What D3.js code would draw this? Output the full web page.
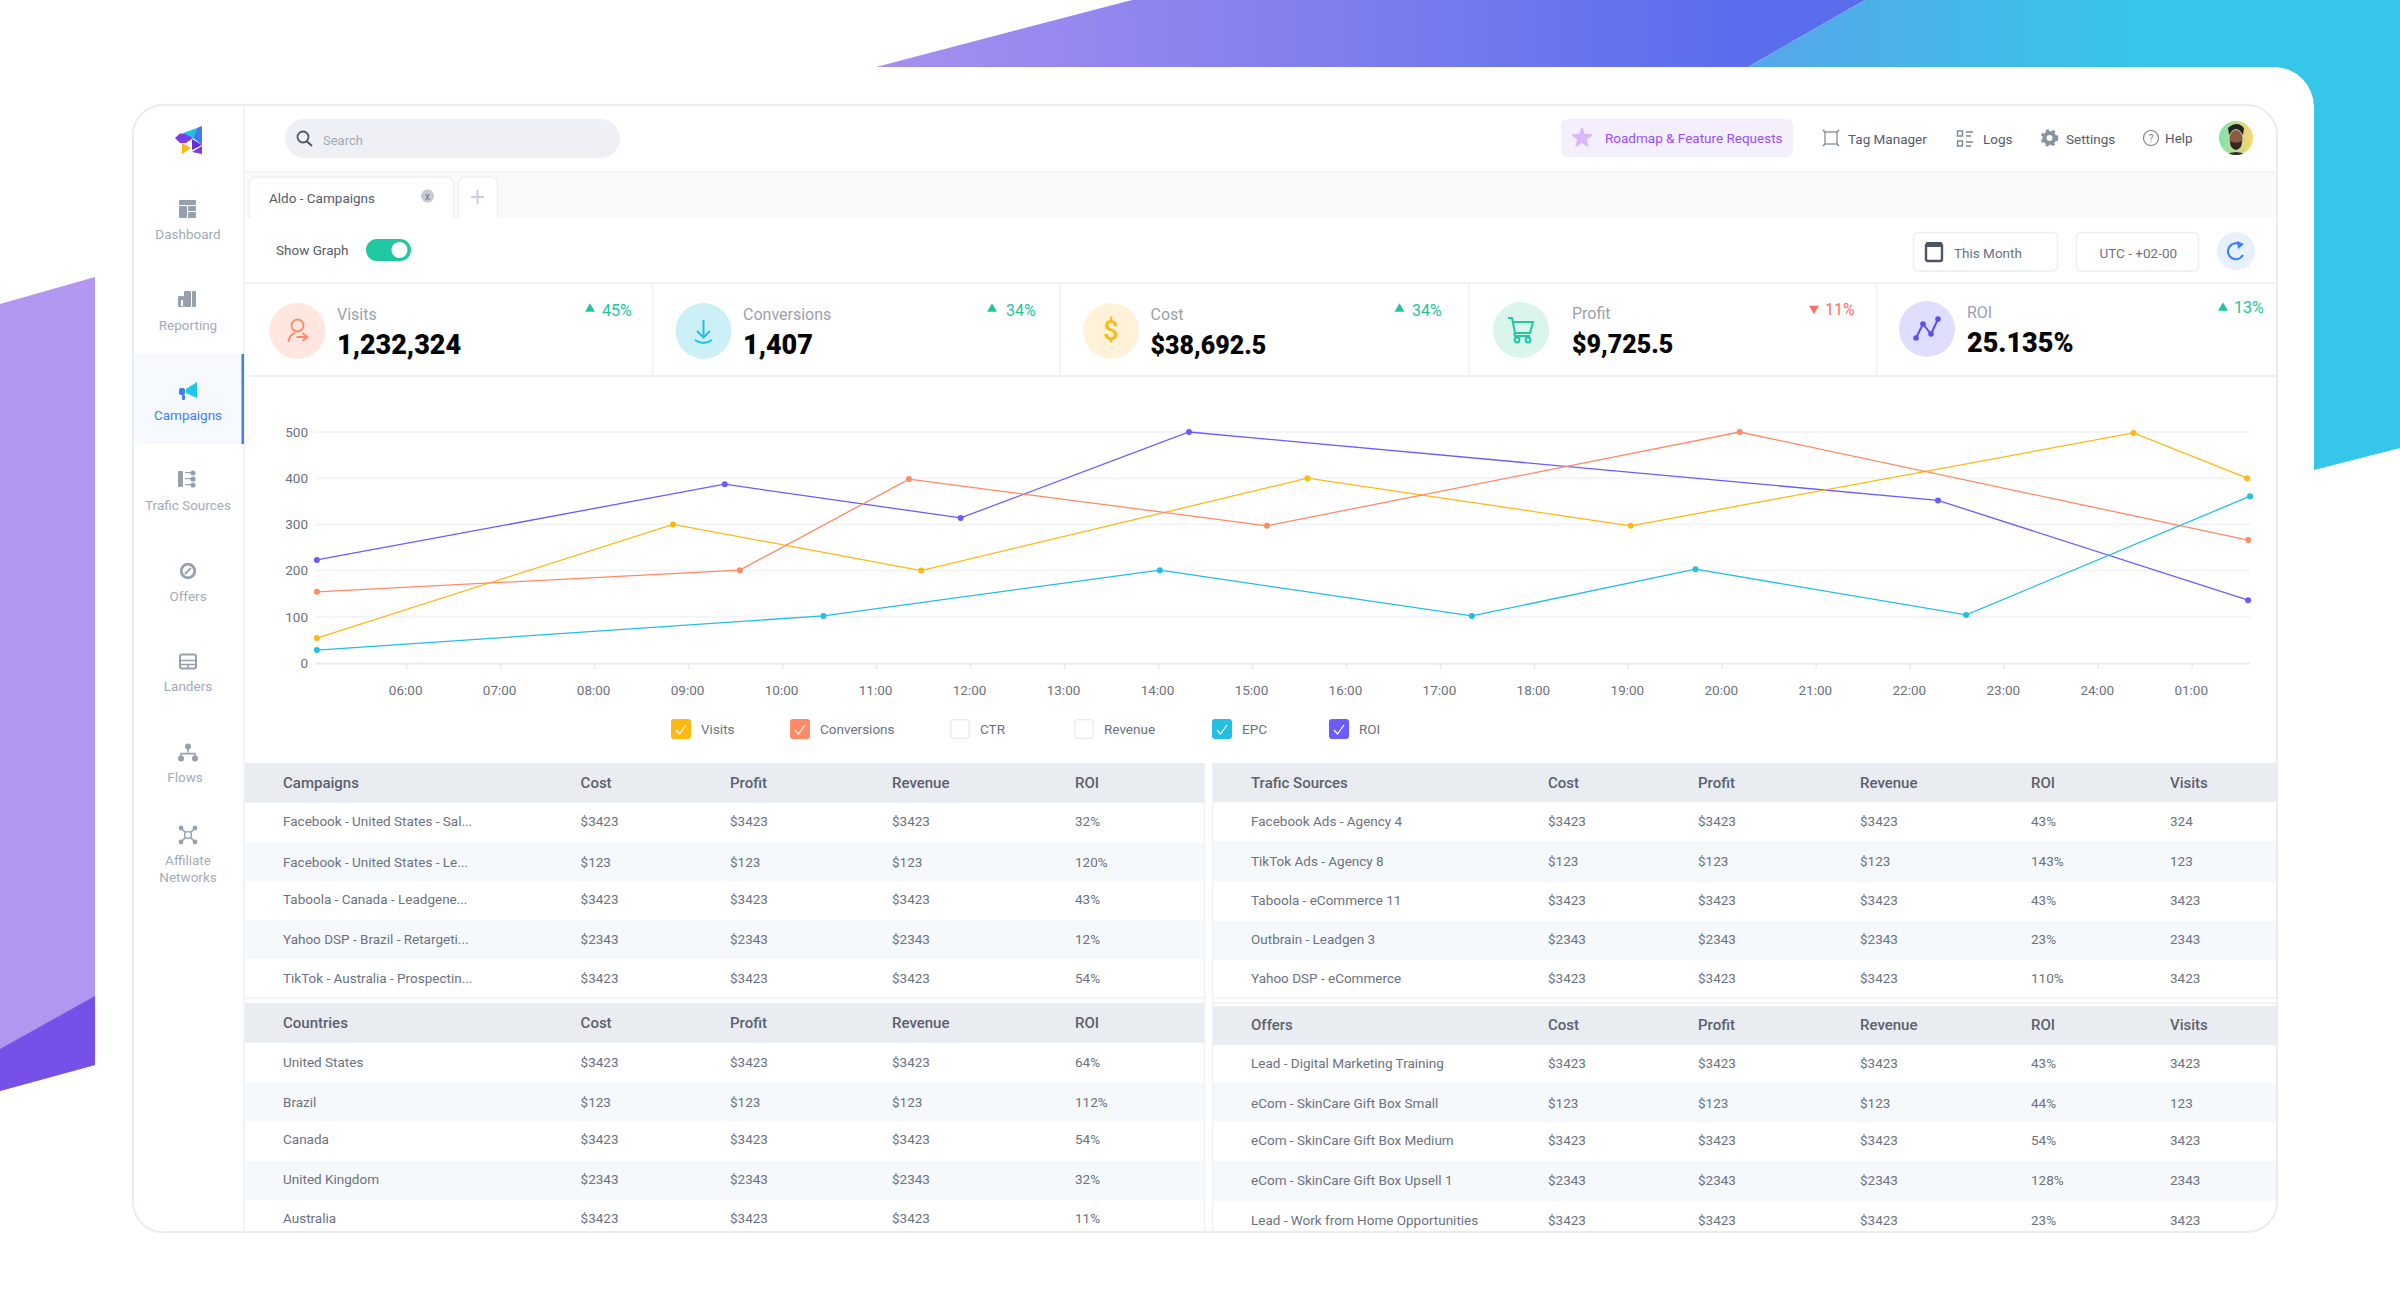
<!DOCTYPE html>
<html>
<head>
<meta charset="utf-8">
<title>Campaigns</title>
<script src="https://cdn.jsdelivr.net/npm/d3@7"></script>
<style>
  html, body { margin: 0; padding: 0; background: #fff; }
  svg { display: block; font-family: Roboto, sans-serif; }
</style>
</head>
<body>
<svg id="page" width="2400" height="1306"></svg>
<script>
// chart data. hours run past 24 because the axis wraps to 01:00
const hourTicks = [6, 7, 8, 9, 10, 11, 12, 13, 14, 15, 16, 17, 18, 19, 20, 21, 22, 23, 24, 25];
const hourLabels = ["06:00", "07:00", "08:00", "09:00", "10:00", "11:00", "12:00", "13:00", "14:00", "15:00",
  "16:00", "17:00", "18:00", "19:00", "20:00", "21:00", "22:00", "23:00", "24:00", "01:00"];
const valueTicks = [0, 100, 200, 300, 400, 500];

const visitsHours = [5.05, 8.84, 11.48, 15.59, 19.03, 24.38, 25.59];
const visitsValues = [54, 300, 200, 400, 297, 498, 400];
const conversionsHours = [5.05, 9.55, 11.35, 15.16, 20.19, 25.6];
const conversionsValues = [154, 201, 398, 297, 500, 266];
const epcHours = [5.05, 10.44, 14.02, 17.34, 19.72, 22.6, 25.62];
const epcValues = [28, 102, 201, 102, 203, 104, 361];
const roiHours = [5.05, 9.39, 11.9, 14.33, 22.3, 25.6];
const roiValues = [223, 387, 314, 500, 352, 136];

const legendNames = ["Visits", "Conversions", "CTR", "Revenue", "EPC", "ROI"];
const legendChecked = [true, true, false, false, true, true];

const kpiNames = ["Visits", "Conversions", "Cost", "Profit", "ROI"];
const kpiValues = ["1,232,324", "1,407", "$38,692.5", "$9,725.5", "25.135%"];
const kpiDeltas = ["45%", "34%", "34%", "11%", "13%"];
const kpiUp = [true, true, true, false, true];

const navNames = ["Dashboard", "Reporting", "Campaigns", "Trafic Sources", "Offers", "Landers", "Flows"];

const campaignColumns = ["Campaigns", "Cost", "Profit", "Revenue", "ROI"];
const campaignRows = [
  ["Facebook - United States - Sal...", "$3423", "$3423", "$3423", "32%"],
  ["Facebook - United States - Le...", "$123", "$123", "$123", "120%"],
  ["Taboola - Canada - Leadgene...", "$3423", "$3423", "$3423", "43%"],
  ["Yahoo DSP - Brazil - Retargeti...", "$2343", "$2343", "$2343", "12%"],
  ["TikTok - Australia - Prospectin...", "$3423", "$3423", "$3423", "54%"]
];
const countryColumns = ["Countries", "Cost", "Profit", "Revenue", "ROI"];
const countryRows = [
  ["United States", "$3423", "$3423", "$3423", "64%"],
  ["Brazil", "$123", "$123", "$123", "112%"],
  ["Canada", "$3423", "$3423", "$3423", "54%"],
  ["United Kingdom", "$2343", "$2343", "$2343", "32%"],
  ["Australia", "$3423", "$3423", "$3423", "11%"]
];
const sourceColumns = ["Trafic Sources", "Cost", "Profit", "Revenue", "ROI", "Visits"];
const sourceRows = [
  ["Facebook Ads - Agency 4", "$3423", "$3423", "$3423", "43%", "324"],
  ["TikTok Ads - Agency 8", "$123", "$123", "$123", "143%", "123"],
  ["Taboola - eCommerce 11", "$3423", "$3423", "$3423", "43%", "3423"],
  ["Outbrain - Leadgen 3", "$2343", "$2343", "$2343", "23%", "2343"],
  ["Yahoo DSP - eCommerce", "$3423", "$3423", "$3423", "110%", "3423"]
];
const offerColumns = ["Offers", "Cost", "Profit", "Revenue", "ROI", "Visits"];
const offerRows = [
  ["Lead - Digital Marketing Training", "$3423", "$3423", "$3423", "43%", "3423"],
  ["eCom - SkinCare Gift Box Small", "$123", "$123", "$123", "44%", "123"],
  ["eCom - SkinCare Gift Box Medium", "$3423", "$3423", "$3423", "54%", "3423"],
  ["eCom - SkinCare Gift Box Upsell 1", "$2343", "$2343", "$2343", "128%", "2343"],
  ["Lead - Work from Home Opportunities", "$3423", "$3423", "$3423", "23%", "3423"]
];

const svg = d3.select("#page");
const defs = svg.append("defs");

const GREY = "#97a1ae";
const colors = { visits: "#fdb913", conversions: "#ff8a65", epc: "#22bfe3", roi: "#6a5cff" };

function gradient(id, x1, x2, from, to) {
  const g = defs.append("linearGradient").attr("id", id)
    .attr("gradientUnits", "userSpaceOnUse")
    .attr("x1", x1).attr("x2", x2).attr("y1", 0).attr("y2", 0);
  g.append("stop").attr("offset", 0).attr("stop-color", from);
  g.append("stop").attr("offset", 1).attr("stop-color", to);
}
gradient("bandPurple", 876, 1748, "#a690ef", "#5a6dec");
gradient("bandBlue", 1748, 2150, "#56a6e8", "#36c6e9");

function poly(parent, points, fill) {
  return parent.append("polygon").attr("points", points.join(" ")).attr("fill", fill);
}
function box(parent, x, y, w, h, fill, rx) {
  return parent.append("rect").attr("x", x).attr("y", y).attr("width", w).attr("height", h)
    .attr("fill", fill).attr("rx", rx || 0);
}
function label(parent, x, y, str, size, fill, weight, anchor) {
  return parent.append("text").attr("x", x).attr("y", y).attr("dy", "0.35em")
    .attr("font-size", size).attr("fill", fill).attr("font-weight", weight || 400)
    .attr("text-anchor", anchor || "start").text(str);
}

// backdrop shapes behind the app card
poly(svg, ["0,304", "95,277", "95,1065", "0,1091"], "#b297f0");
poly(svg, ["0,1049", "95,996", "95,1065", "0,1091"], "#7650e8");
poly(svg, ["876,67", "1132,0", "1865,0", "1748,67"], "url(#bandPurple)");
poly(svg, ["1748,67", "1865,0", "2400,0", "2400,448", "2314,470", "2270,470", "2270,67"], "url(#bandBlue)");
box(svg, 95, 67, 2219, 1300, "#fff", 40);

// app panel
const PANEL = { x: 133, y: 105, w: 2144, h: 1127, r: 30 };
defs.append("clipPath").attr("id", "panelClip").append("rect")
  .attr("x", PANEL.x).attr("y", PANEL.y).attr("width", PANEL.w).attr("height", PANEL.h).attr("rx", PANEL.r);
const app = svg.append("g").attr("clip-path", "url(#panelClip)");
box(app, PANEL.x, PANEL.y, PANEL.w, PANEL.h, "#fff");

// tab strip
box(app, 244, 172, 2033, 46, "#fafafa");
app.append("line").attr("x1", 244).attr("x2", 2277).attr("y1", 172).attr("y2", 172).attr("stroke", "#f1f2f6").attr("stroke-width", 1.5);
app.append("path").attr("d", "M249.5 218V183a6 6 0 0 1 6-6H447.5a6 6 0 0 1 6 6V218").attr("fill", "#fff").attr("stroke", "#eef0f6").attr("stroke-width", 1.5);
app.append("path").attr("d", "M458.5 218V183a6 6 0 0 1 6-6H491.5a6 6 0 0 1 6 6V218").attr("fill", "#fff").attr("stroke", "#eef0f6").attr("stroke-width", 1.5);
label(app, 269, 198, "Aldo - Campaigns", 13.5, "#555c68");
app.append("circle").attr("cx", 427.5).attr("cy", 196).attr("r", 6.5).attr("fill", "#c6cad3");
label(app, 427.5, 196, "x", 10, "#70757f", 400, "middle");
app.append("path").attr("d", "M471 197H484M477.5 190V204").attr("stroke", "#c9cde2").attr("stroke-width", 2).attr("fill", "none");

// toolbar
label(app, 276, 250, "Show Graph", 13.5, "#555c68");
box(app, 366, 239, 45, 22, "#1fc8a0", 11);
app.append("circle").attr("cx", 399.5).attr("cy", 250).attr("r", 8).attr("fill", "#fff");
function outlined(x, y, w, h) {
  box(app, x, y, w, h, "#fff", 5).attr("stroke", "#eceef4").attr("stroke-width", 1.5);
}
outlined(1913.5, 232.5, 144, 38.5);
outlined(2076.5, 232.5, 122, 38.5);
box(app, 1926, 244, 16, 17, "#fff", 2).attr("stroke", "#4b5563").attr("stroke-width", 2.4);
box(app, 1926, 242, 16, 5, "#4b5563", 1);
label(app, 1954, 253, "This Month", 13.5, "#6b7280");
label(app, 2099.5, 253, "UTC - +02-00", 13.5, "#6b7280");
app.append("circle").attr("cx", 2236).attr("cy", 251).attr("r", 19).attr("fill", "#e9f0fd");
app.append("path").attr("d", "M2241 245a8 8 0 1 0 2 10").attr("fill", "none").attr("stroke", "#3b82f6").attr("stroke-width", 2.2);
poly(app, ["2237,241", "2244,244", "2238,249"], "#3b82f6");

// top bar
box(app, 285, 119, 335, 39, "#eff0f5", 19.5);
app.append("circle").attr("cx", 303).attr("cy", 137).attr("r", 5.5).attr("fill", "none").attr("stroke", "#4b5563").attr("stroke-width", 1.8);
app.append("line").attr("x1", 307).attr("y1", 141.5).attr("x2", 312).attr("y2", 146).attr("stroke", "#4b5563").attr("stroke-width", 2);
label(app, 323, 140, "Search", 13, "#a4aab5");

box(app, 1561, 119, 232, 38, "#f3effd", 6);
app.append("path").attr("transform", "translate(1582,138)")
  .attr("d", d3.symbol(d3.symbolStar, 100)()).attr("fill", "#d9b8fb")
  .attr("stroke", "#d9b8fb").attr("stroke-width", 2).attr("stroke-linejoin", "round");
label(app, 1605, 138, "Roadmap & Feature Requests", 13.5, "#9b4df5");

label(app, 1848, 139, "Tag Manager", 13.5, "#555c68");
box(app, 1825, 132, 12, 12, "none").attr("stroke", "#7b8490").attr("stroke-width", 1.2);
app.append("path").attr("d", "M1823 130l2 2M1839 130l-2 2M1823 146l2-2M1839 146l-2-2").attr("stroke", "#7b8490").attr("stroke-width", 1.4);
label(app, 1983, 139, "Logs", 13.5, "#555c68");
box(app, 1957.5, 131, 5, 5, "none").attr("stroke", "#7b8490").attr("stroke-width", 1.4);
box(app, 1957.5, 141, 5, 5, "none").attr("stroke", "#7b8490").attr("stroke-width", 1.4);
app.append("path").attr("d", "M1966 132H1973M1966 136H1971M1966 142H1973M1966 146H1971").attr("stroke", "#7b8490").attr("stroke-width", 1.4);
label(app, 2066, 139, "Settings", 13.5, "#555c68");
app.append("circle").attr("cx", 2049.5).attr("cy", 138).attr("r", 5).attr("fill", "none").attr("stroke", "#8a93a0").attr("stroke-width", 4);
app.append("circle").attr("cx", 2049.5).attr("cy", 138).attr("r", 7.5).attr("fill", "none").attr("stroke", "#8a93a0").attr("stroke-width", 2.5).attr("stroke-dasharray", "3 3.3");
label(app, 2165, 138, "Help", 13.5, "#555c68");
app.append("circle").attr("cx", 2151).attr("cy", 138).attr("r", 7.5).attr("fill", "none").attr("stroke", "#7b8490").attr("stroke-width", 1.2);
label(app, 2151, 138, "?", 10, "#7b8490", 400, "middle");

// avatar, only a rough likeness
gradient("avatarBg", 2219, 2253, "#7fe3b0", "#ffd36e");
app.append("circle").attr("cx", 2236).attr("cy", 138).attr("r", 17).attr("fill", "url(#avatarBg)");
defs.append("clipPath").attr("id", "avatarClip").append("circle").attr("cx", 2236).attr("cy", 138).attr("r", 17);
const avatar = app.append("g").attr("clip-path", "url(#avatarClip)");
avatar.append("ellipse").attr("cx", 2236).attr("cy", 139).attr("rx", 6.5).attr("ry", 9).attr("fill", "#8a5a44");
avatar.append("path").attr("d", "M2229 135q7-12 14 0l1-7q-7-8-16 0Z").attr("fill", "#26221f");
avatar.append("path").attr("d", "M2230 141q6 3 12 0q0 8-6 9q-6-1-6-9Z").attr("fill", "#33261f");
avatar.append("path").attr("d", "M2224 156q12-8 24 0v4h-24Z").attr("fill", "#2b2b33");

// sidebar
app.append("line").attr("x1", 244).attr("x2", 244).attr("y1", 105).attr("y2", 1232).attr("stroke", "#eef0f7").attr("stroke-width", 1.5);
box(app, 134, 354, 110, 90, "#f6f9fe");
box(app, 241.5, 354, 2.5, 90, "#3b82f6");

// logo
poly(app, ["175,138", "180,133.5", "191,133.5", "193,138", "186,143", "180,143"], "#7a3ce8");
poly(app, ["183,133", "197,128", "193,138"], "#22bfe3");
poly(app, ["197,128", "202,126", "202,145", "193,138"], "#3f7cf0");
poly(app, ["192,139", "202,145", "192,150"], "#6a2be0");
poly(app, ["182,143", "191,148", "182,154"], "#fdb913");
poly(app, ["192,152", "202,146", "202,154"], "#7a3ce8");

const navY = [209, 299, 391, 479, 571, 661.5, 752.6];
const navTextY = [234, 325, 415, 505, 596, 686.5, 777];
navNames.forEach((name, i) => {
  const active = name === "Campaigns";
  label(app, name === "Flows" ? 185 : 188, navTextY[i], name, 13.5, active ? "#3b82f6" : "#a3abb8", 400, "middle");
  const c = app.append("g").attr("transform", `translate(188,${navY[i]})`);
  if (name === "Dashboard") {
    box(c, -9, -9, 17, 5, GREY, 1);
    box(c, -9, -3, 8, 12, GREY, 1);
    box(c, 0, -3, 8, 5, GREY, 1);
    box(c, 0, 3, 8, 6, GREY, 1);
  } else if (name === "Reporting") {
    box(c, -10, -3, 6, 11, GREY, 1);
    box(c, -4, -8, 7, 16, GREY, 1);
    box(c, 4, -8, 4, 16, GREY, 1);
    box(c, -7, 1, 2, 6, "#fff");
  } else if (name === "Campaigns") {
    poly(c, ["-2,-2", "9,-9", "9,7", "-2,2"], "#1cc8e8");
    box(c, -9, -3, 6, 7, "#3f7cf0", 2);
    box(c, -6, 4, 3, 5, "#3f7cf0", 1);
  } else if (name === "Trafic Sources") {
    box(c, -10, -8, 5, 16, GREY, 1);
    box(c, -3, -7, 6, 1.2, GREY);
    box(c, -3, -1, 6, 1.2, GREY);
    box(c, -3, 5, 6, 1.2, GREY);
    [-6, 0, 6].forEach(dy => c.append("circle").attr("cx", 5).attr("cy", dy).attr("r", 2.6).attr("fill", GREY));
  } else if (name === "Offers") {
    c.append("circle").attr("r", 6.8).attr("fill", "none").attr("stroke", GREY).attr("stroke-width", 2.8);
    c.append("path").attr("d", "M-3 3L3 -3").attr("stroke", GREY).attr("stroke-width", 1.8);
  } else if (name === "Landers") {
    box(c, -8, -7, 16, 14, "none", 2).attr("stroke", GREY).attr("stroke-width", 2);
    c.append("path").attr("d", "M-8 -1H8M-8 3H8M0 3V7").attr("stroke", GREY).attr("stroke-width", 1.6);
  } else if (name === "Flows") {
    c.append("path").attr("d", "M0 -6V0M-7 6V1H7V6").attr("fill", "none").attr("stroke", GREY).attr("stroke-width", 1.6);
    c.append("circle").attr("cy", -6).attr("r", 3).attr("fill", GREY);
    c.append("circle").attr("cx", -7).attr("cy", 6).attr("r", 3).attr("fill", GREY);
    c.append("circle").attr("cx", 7).attr("cy", 6).attr("r", 3).attr("fill", GREY);
  }
});
// affiliate networks has a two line label
label(app, 188, 860, "Affiliate", 13.5, "#a3abb8", 400, "middle");
label(app, 188, 877, "Networks", 13.5, "#a3abb8", 400, "middle");
const aff = app.append("g").attr("transform", "translate(188,835)");
aff.append("path").attr("d", "M-7 -7L7 7M7 -7L-7 7").attr("stroke", GREY).attr("stroke-width", 1.6);
aff.append("circle").attr("r", 3.4).attr("fill", "#fff").attr("stroke", GREY).attr("stroke-width", 1.4);
[[-7, -7], [7, -7], [-7, 7], [7, 7]].forEach(p => aff.append("circle").attr("cx", p[0]).attr("cy", p[1]).attr("r", 2.4).attr("fill", GREY));

// kpi strip
app.append("path").attr("d", "M244 283H2277M244 376H2277").attr("stroke", "#f1f2f8").attr("stroke-width", 2);
[652.5, 1060, 1469, 1876.5].forEach(x => {
  app.append("line").attr("x1", x).attr("x2", x).attr("y1", 283).attr("y2", 376).attr("stroke", "#f1f2f8").attr("stroke-width", 1.5);
});
const kpiCircleX = [297.5, 703.5, 1111, 1521, 1927];
const kpiCircleY = [331, 331, 331, 330, 329];
const kpiTextX = [337, 743, 1150.5, 1572, 1967];
const kpiShift = [0, 0, 0, -1, -2];
const kpiTriX = [590, 992, 1399.5, 1814, 2223];
const kpiDeltaX = [602, 1006, 1412, 1825, 2234];
const kpiTint = ["#ffe7e0", "#cbf1f7", "#fff2d8", "#d9f5ec", "#e0defe"];
const kpiFontSize = [27, 27, 25, 25, 27];
kpiNames.forEach((name, i) => {
  app.append("circle").attr("cx", kpiCircleX[i]).attr("cy", kpiCircleY[i]).attr("r", 28).attr("fill", kpiTint[i]);
  label(app, kpiTextX[i], 314 + kpiShift[i], name, 16, "#9aa2ae");
  label(app, kpiTextX[i], 345 + kpiShift[i], kpiValues[i], kpiFontSize[i], "#050505", 900);
  const up = kpiUp[i];
  const col = up ? "#20c5a0" : "#fb6f67";
  app.append("path").attr("transform", `translate(${kpiTriX[i]},${309 - Math.max(0, i - 2) * .5}) rotate(${up ? 0 : 180})`)
    .attr("d", d3.symbol(d3.symbolTriangle, 42)()).attr("fill", col);
  label(app, kpiDeltaX[i], 310 + (i > 2 ? -1 - (i - 3) * 2 : 0), kpiDeltas[i], 16, col);
});
// kpi icons
const iconV = app.append("g").attr("transform", "translate(297.5,331)").attr("fill", "none").attr("stroke", "#ff8a65").attr("stroke-width", 1.8);
iconV.append("circle").attr("cy", -5.5).attr("r", 6);
iconV.append("path").attr("d", "M-9 11q1-8 7-9M-1 6H9M5 2l5 4l-5 4");
app.append("path").attr("d", "M703.5 320V337M697 331l6.5 6.5l6.5-6.5M695 340q8.5 6 17 0").attr("fill", "none").attr("stroke", "#22bfe3").attr("stroke-width", 2);
label(app, 1111, 331, "$", 27, "#fdb913", 500, "middle");
const iconC = app.append("g").attr("transform", "translate(1521,330)").attr("fill", "none").attr("stroke", "#1fc8a0").attr("stroke-width", 2);
iconC.append("path").attr("d", "M-13 -12h4l3 15h15l3-11H-8M-7 3l1 3h15");
iconC.append("circle").attr("cx", -4).attr("cy", 10).attr("r", 2.4);
iconC.append("circle").attr("cx", 7).attr("cy", 10).attr("r", 2.4);
const iconR = app.append("g").attr("transform", "translate(1927,329)");
iconR.append("path").attr("d", "M-11 9L-4 -5L4 5L11 -10").attr("fill", "none").attr("stroke", "#5a4ff0").attr("stroke-width", 2);
[[-11, 9], [-4, -5], [4, 5], [11, -10]].forEach(p => iconR.append("circle").attr("cx", p[0]).attr("cy", p[1]).attr("r", 2.8).attr("fill", "#5a4ff0"));

// line chart
const x = d3.scaleLinear().domain([5.03, 25.62]).range([315, 2250]);
const y = d3.scaleLinear().domain([0, 500]).range([663, 432]);

const chart = app.append("g");
chart.append("g").selectAll("line").data(valueTicks.filter(d => d > 0)).join("line")
  .attr("x1", x.range()[0]).attr("x2", x.range()[1])
  .attr("y1", d => y(d)).attr("y2", d => y(d))
  .attr("stroke", "#f3f4f9").attr("stroke-width", 2);

const xAxis = d3.axisBottom(x).tickValues(hourTicks).tickFormat((d, i) => hourLabels[i]).tickSize(6).tickPadding(16).tickSizeOuter(0);
const gx = chart.append("g").attr("transform", "translate(0,663)").call(xAxis);
gx.select(".domain").attr("stroke", "#e8eaf2").attr("stroke-width", 2);
gx.selectAll(".tick line").attr("stroke", "#e8eaf2").attr("stroke-width", 1.5);
gx.selectAll("text").attr("font-family", "Roboto, sans-serif").attr("font-size", 13.5).attr("fill", "#6b7280").attr("dx", -1);

const yAxis = d3.axisLeft(y).tickValues(valueTicks).tickSize(0).tickPadding(7);
const gy = chart.append("g").attr("transform", "translate(315,0)").call(yAxis);
gy.select(".domain").remove();
gy.selectAll("text").attr("font-family", "Roboto, sans-serif").attr("font-size", 13.5).attr("fill", "#6b7280");

const seriesList = [
  { hours: roiHours, values: roiValues, color: colors.roi },
  { hours: visitsHours, values: visitsValues, color: colors.visits },
  { hours: conversionsHours, values: conversionsValues, color: colors.conversions },
  { hours: epcHours, values: epcValues, color: colors.epc }
];
const line = d3.line().x(d => x(d[0])).y(d => y(d[1]));
seriesList.forEach(s => {
  const pts = d3.zip(s.hours, s.values);
  chart.append("path").attr("d", line(pts)).attr("fill", "none").attr("stroke", s.color).attr("stroke-width", 1.3);
  chart.append("g").selectAll("circle").data(pts).join("circle")
    .attr("cx", d => x(d[0])).attr("cy", d => y(d[1])).attr("r", 3).attr("fill", s.color);
});

// legend
const legendBoxX = [671, 790, 950, 1074, 1212, 1329];
const legendColors = [colors.visits, colors.conversions, null, null, colors.epc, colors.roi];
legendNames.forEach((name, i) => {
  const bx = legendBoxX[i];
  if (legendChecked[i]) {
    box(chart, bx, 719, 20, 20, legendColors[i], 3);
    chart.append("path").attr("d", `M${bx + 5} ${730}l3.5 4l6.5-9`).attr("fill", "none").attr("stroke", "#fff").attr("stroke-width", 1.2);
  } else {
    box(chart, bx + .75, 719.75, 18.5, 18.5, "#fff", 3).attr("stroke", "#ebedf5").attr("stroke-width", 1.5);
  }
  label(chart, bx + 30, 729, name, 13.5, "#6b7280");
});

// tables
function drawTable(opts) {
  const g = app.append("g");
  box(g, opts.x, opts.headTop, opts.w, opts.headH, "#e9ecf1");
  opts.altBands.forEach(b => box(g, opts.x, b[0], opts.w, b[1] - b[0], "#f6f9fc"));
  opts.columns.forEach((c, i) => label(g, opts.colX[i], opts.headText, c, 15, "#5b626e", 500));
  opts.rows.forEach((row, r) => {
    row.forEach((cell, i) => label(g, opts.colX[i], opts.rowText[r], cell, 13.5, "#6b7280"));
  });
}
const leftCols = [283, 580.6, 730, 892, 1075];
const rightCols = [1251, 1548, 1698, 1860, 2031, 2170];
drawTable({ x: 245, w: 959, headTop: 763, headH: 40, headText: 783, columns: campaignColumns, rows: campaignRows, colX: leftCols,
  altBands: [[842, 881], [920, 959]], rowText: [821.5, 862.5, 899.5, 939.5, 978.5] });
drawTable({ x: 245, w: 959, headTop: 1003, headH: 40, headText: 1023, columns: countryColumns, rows: countryRows, colX: leftCols,
  altBands: [[1082, 1121], [1161, 1200]], rowText: [1062.5, 1102.5, 1139.5, 1179.5, 1218.5] });
drawTable({ x: 1213, w: 1064, headTop: 763, headH: 39, headText: 783, columns: sourceColumns, rows: sourceRows, colX: rightCols,
  altBands: [[841, 882], [921, 960]], rowText: [821.5, 861.5, 900.5, 939.5, 978.5] });
drawTable({ x: 1213, w: 1064, headTop: 1006, headH: 39, headText: 1025, columns: offerColumns, rows: offerRows, colX: rightCols,
  altBands: [[1083, 1122], [1161, 1201]], rowText: [1063.5, 1103.5, 1140.5, 1180.5, 1220.5] });
// thin rules round the table blocks
app.append("path").attr("d", "M245 998H1204M1213 998H2277M1213 1003H2277").attr("stroke", "#eef1f6").attr("stroke-width", 1.5);
app.append("path").attr("d", "M1204.5 763V1232M1212.5 763V1232").attr("stroke", "#eef1f6").attr("stroke-width", 1.5);

// panel outline goes on last so nothing covers it
box(svg, PANEL.x, PANEL.y, PANEL.w, PANEL.h, "none", PANEL.r).attr("stroke", "#e9ecf4").attr("stroke-width", 2);
</script>
</body>
</html>
